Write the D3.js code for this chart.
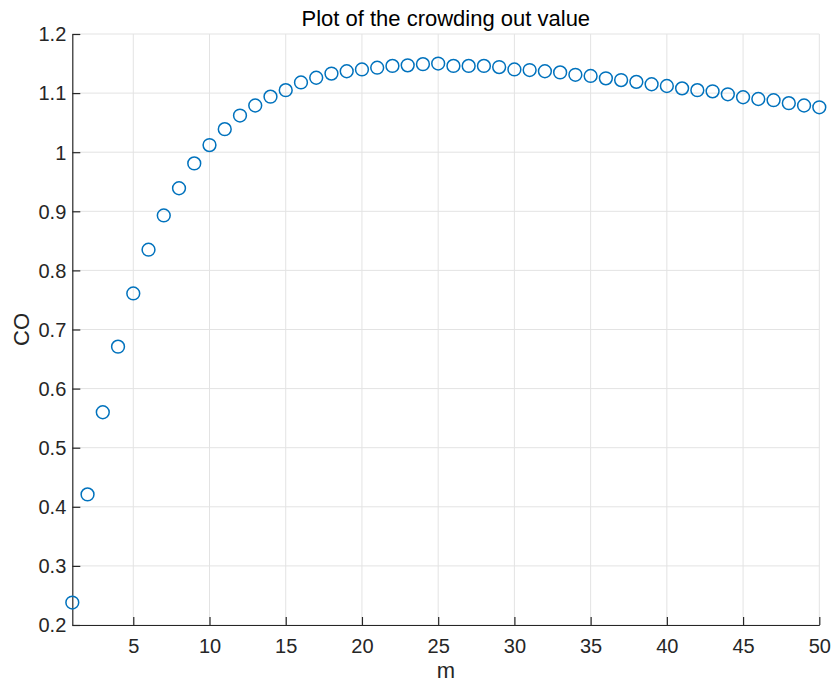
<!DOCTYPE html>
<html lang="en">
<head>
<meta charset="UTF-8">
<script src="https://d3js.org/d3.v7.min.js"></script>
<style>
body { margin:0; background:#fff; }
svg { font-family: "Liberation Sans", Arial, Helvetica, sans-serif; }
</style>
<title>Plot of the crowding out value</title>
</head>
<body>
<script>
// values, m = 1..50
var mValues = d3.range(1, 51);
var coValues = [
  0.238, 0.421, 0.560, 0.671, 0.761, 0.835, 0.893, 0.939, 0.981, 1.012,
  1.039, 1.062, 1.079, 1.094, 1.105, 1.118, 1.126, 1.133, 1.137, 1.140,
  1.143, 1.146, 1.147, 1.149, 1.150, 1.146, 1.146, 1.146, 1.144, 1.140,
  1.139, 1.137, 1.135, 1.131, 1.129, 1.125, 1.122, 1.119, 1.115, 1.112,
  1.108, 1.105, 1.103, 1.098, 1.093, 1.090, 1.088, 1.083, 1.079, 1.076
];
var xTicks = [5, 10, 15, 20, 25, 30, 35, 40, 45, 50];
var yTicks = [0.2, 0.3, 0.4, 0.5, 0.6, 0.7, 0.8, 0.9, 1, 1.1, 1.2];

var W = 832, H = 682;
var margin = {top: 34, right: 12.7, bottom: 57, left: 72.3};
var width = W - margin.left - margin.right,
    height = H - margin.top - margin.bottom;

var svg = d3.select("body").append("svg")
    .attr("width", W)
    .attr("height", H);

var g = svg.append("g")
    .attr("transform", "translate(" + margin.left + "," + margin.top + ")");

var x = d3.scaleLinear().domain([1, 50]).range([0, width]);
var y = d3.scaleLinear().domain([0.2, 1.2]).range([height, 0]);

// grid
g.append("g").selectAll("line").data(xTicks).enter().append("line")
    .attr("x1", function(d) { return x(d); })
    .attr("x2", function(d) { return x(d); })
    .attr("y1", 0).attr("y2", height)
    .attr("stroke", "#e3e3e3").attr("stroke-width", 1);
g.append("g").selectAll("line").data(yTicks).enter().append("line")
    .attr("y1", function(d) { return y(d); })
    .attr("y2", function(d) { return y(d); })
    .attr("x1", 0).attr("x2", width)
    .attr("stroke", "#e3e3e3").attr("stroke-width", 1);

// axes
var xAxis = g.append("g")
    .attr("transform", "translate(0," + height + ")")
    .call(d3.axisBottom(x).tickValues(xTicks).tickSizeInner(-8).tickSizeOuter(0).tickPadding(14)
        .tickFormat(d3.format("d")));
var yAxis = g.append("g")
    .call(d3.axisLeft(y).tickValues(yTicks).tickSizeInner(-8).tickSizeOuter(0).tickPadding(6)
        .tickFormat(function(d) { return String(+d.toFixed(1)); }));

[xAxis, yAxis].forEach(function(a) {
  a.select(".domain").attr("stroke", "#262626").attr("stroke-width", 1.2);
  a.selectAll(".tick line").attr("stroke", "#262626").attr("stroke-width", 1.2);
  a.selectAll(".tick text")
    .attr("fill", "#262626")
    .style("font-size", "20px")
    .style("font-family", "'Liberation Sans', Arial, sans-serif");
});
yAxis.selectAll(".tick text").attr("dy", "0.34em");

// points
g.selectAll("circle.pt").data(coValues).enter().append("circle")
    .attr("class", "pt")
    .attr("cx", function(d, i) { return x(mValues[i]); })
    .attr("cy", function(d) { return y(d); })
    .attr("r", 6.4)
    .attr("fill", "none")
    .attr("stroke", "#0072BD")
    .attr("stroke-width", 1.5);

// labels
svg.append("text")
    .attr("x", margin.left + width / 2)
    .attr("y", 26)
    .attr("text-anchor", "middle")
    .attr("fill", "#000")
    .style("font-size", "22px")
    .text("Plot of the crowding out value");

svg.append("text")
    .attr("x", margin.left + width / 2)
    .attr("y", 678)
    .attr("text-anchor", "middle")
    .attr("fill", "#262626")
    .style("font-size", "22px")
    .text("m");

svg.append("text")
    .attr("transform", "translate(28.5," + (margin.top + height / 2) + ") rotate(-90)")
    .attr("text-anchor", "middle")
    .attr("fill", "#262626")
    .style("font-size", "22px")
    .text("CO");
</script>
</body>
</html>
